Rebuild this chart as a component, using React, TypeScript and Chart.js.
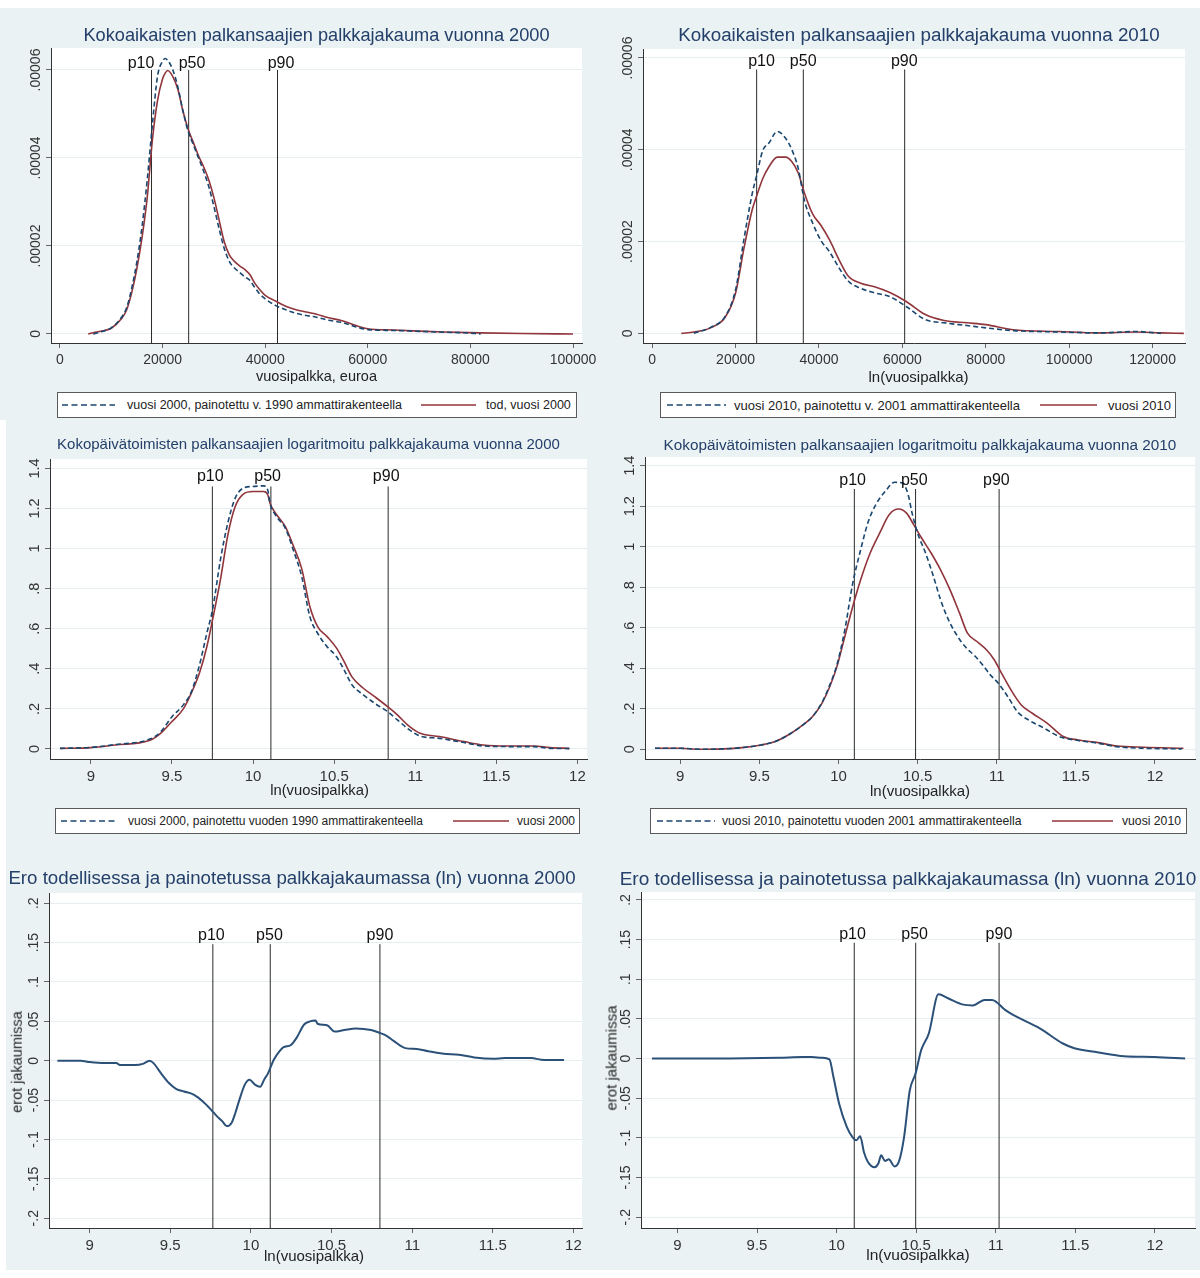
import React, { useEffect, useRef } from "react";
import { Chart, registerables } from "chart.js";

Chart.register(...registerables);

const FONT = '"Liberation Sans", Arial, Helvetica, sans-serif';
const NAVY = "#1a476f";
const MAROON = "#90353b";
const DIFF = "#2b5179";
const BG = "#eaf2f3";
const TITLE = "#24406a";
const PCT_NAMES = ["p10", "p50", "p90"];

// ---------------- Panel 1: euros, 2000 ----------------
const P1_WAGE = [5500, 6500, 8000, 10000, 12000, 13000, 14000, 15000, 16000, 17000, 18000, 19000, 20000, 20500, 21000, 22000, 23000, 24000, 25000, 26000, 27000, 28000, 29000, 30000, 31000, 32000, 33000, 34000, 35000, 36000, 37000, 38000, 39000, 40000, 42000, 44000, 46000, 48000, 50000, 52000, 55000, 58000, 60000, 65000, 70000, 75000, 80000, 82000, 90000, 100000];
const P1_ACTUAL = [0, 0.03e-5, 0.06e-5, 0.13e-5, 0.35e-5, 0.55e-5, 0.95e-5, 1.5e-5, 2.2e-5, 3.1e-5, 4.4e-5, 5.3e-5, 5.8e-5, 5.93e-5, 5.99e-5, 5.85e-5, 5.55e-5, 5.05e-5, 4.65e-5, 4.35e-5, 4.05e-5, 3.8e-5, 3.5e-5, 3.1e-5, 2.6e-5, 2.1e-5, 1.8e-5, 1.65e-5, 1.55e-5, 1.47e-5, 1.35e-5, 1.15e-5, 1.0e-5, 0.88e-5, 0.75e-5, 0.63e-5, 0.55e-5, 0.5e-5, 0.45e-5, 0.38e-5, 0.3e-5, 0.18e-5, 0.12e-5, 0.09e-5, 0.065e-5, 0.045e-5, 0.03e-5, 0.025e-5, 0.01e-5, 0];
const P1_WEIGHTED = [null, 0, 0.05e-5, 0.14e-5, 0.38e-5, 0.6e-5, 1.05e-5, 1.65e-5, 2.45e-5, 3.5e-5, 4.75e-5, 5.85e-5, 6.2e-5, 6.26e-5, 6.22e-5, 6.0e-5, 5.6e-5, 5.05e-5, 4.6e-5, 4.3e-5, 4.0e-5, 3.7e-5, 3.35e-5, 2.9e-5, 2.4e-5, 1.95e-5, 1.65e-5, 1.5e-5, 1.4e-5, 1.3e-5, 1.22e-5, 1.05e-5, 0.9e-5, 0.8e-5, 0.65e-5, 0.55e-5, 0.47e-5, 0.42e-5, 0.38e-5, 0.32e-5, 0.26e-5, 0.15e-5, 0.1e-5, 0.08e-5, 0.06e-5, 0.04e-5, 0.02e-5, 0, null, null];
const P1_X_TICKS = [0, 20000, 40000, 60000, 80000, 100000];
const P1_X_LABELS = ["0", "20000", "40000", "60000", "80000", "100000"];
const P1_Y_TICKS = [0, 0.00002, 0.00004, 0.00006];
const P1_Y_LABELS = ["0", ".00002", ".00004", ".00006"];
const P1_PCT = [17840, 25080, 42400];
const P1_PCT_LABEL_X = [15790, 25730, 43080];

// ---------------- Panel 2: euros, 2010 ----------------
const P2_WAGE = [7000, 10000, 14000, 17500, 20000, 22000, 24000, 25000, 26500, 28000, 30000, 32000, 33500, 35000, 36500, 38500, 40500, 42500, 45000, 47000, 50000, 53500, 57000, 61000, 65500, 70000, 75500, 80000, 86500, 97500, 107000, 116000, 122000, 127500];
const P2_ACTUAL = [0, 0.03e-5, 0.12e-5, 0.35e-5, 0.88e-5, 1.85e-5, 2.7e-5, 2.98e-5, 3.37e-5, 3.63e-5, 3.84e-5, 3.84e-5, 3.74e-5, 3.5e-5, 3.06e-5, 2.6e-5, 2.35e-5, 2.04e-5, 1.57e-5, 1.25e-5, 1.09e-5, 1.01e-5, 0.89e-5, 0.69e-5, 0.41e-5, 0.28e-5, 0.23e-5, 0.19e-5, 0.08e-5, 0.04e-5, 0.01e-5, 0.03e-5, 0.01e-5, 0];
const P2_WEIGHTED = [null, 0, 0.13e-5, 0.37e-5, 0.95e-5, 2.05e-5, 3.05e-5, 3.42e-5, 3.98e-5, 4.15e-5, 4.4e-5, 4.25e-5, 4.0e-5, 3.6e-5, 2.9e-5, 2.4e-5, 2.02e-5, 1.78e-5, 1.4e-5, 1.14e-5, 0.98e-5, 0.88e-5, 0.8e-5, 0.58e-5, 0.3e-5, 0.23e-5, 0.17e-5, 0.12e-5, 0.06e-5, 0.03e-5, 0.01e-5, 0.04e-5, 0, null];
const P2_X_TICKS = [0, 20000, 40000, 60000, 80000, 100000, 120000];
const P2_X_LABELS = ["0", "20000", "40000", "60000", "80000", "100000", "120000"];
const P2_PCT = [25050, 36240, 60550];
const P2_PCT_LABEL_X = [26230, 36220, 60450];

// ---------------- Panel 3: ln wage, 2000 ----------------
const P3_LNWAGE = [8.81, 9.0, 9.15, 9.36, 9.43, 9.5, 9.57, 9.62, 9.67, 9.715, 9.75, 9.8, 9.845, 9.89, 9.94, 10.0, 10.065, 10.09, 10.105, 10.14, 10.2, 10.245, 10.3, 10.35, 10.4, 10.455, 10.515, 10.56, 10.61, 10.68, 10.75, 10.83, 10.89, 10.96, 11.03, 11.15, 11.3, 11.42, 11.57, 11.73, 11.83, 11.95];
const P3_ACTUAL = [0.003, 0.007, 0.02, 0.042, 0.078, 0.137, 0.2, 0.28, 0.38, 0.51, 0.644, 0.85, 1.07, 1.21, 1.272, 1.285, 1.285, 1.27, 1.225, 1.175, 1.108, 1.02, 0.9, 0.711, 0.608, 0.562, 0.503, 0.438, 0.36, 0.303, 0.261, 0.211, 0.17, 0.115, 0.078, 0.062, 0.037, 0.02, 0.015, 0.015, 0.007, 0.003];
const P3_WEIGHTED = [0.003, 0.008, 0.022, 0.048, 0.085, 0.161, 0.22, 0.286, 0.42, 0.578, 0.694, 0.95, 1.13, 1.252, 1.302, 1.31, 1.313, 1.293, 1.225, 1.165, 1.1, 1.0, 0.86, 0.661, 0.575, 0.512, 0.46, 0.397, 0.32, 0.27, 0.228, 0.186, 0.145, 0.098, 0.065, 0.053, 0.032, 0.015, 0.012, 0.012, 0.003, 0.002];
const LN_X_TICKS = [9, 9.5, 10, 10.5, 11, 11.5, 12];
const LN_X_LABELS = ["9", "9.5", "10", "10.5", "11", "11.5", "12"];
const DENS_Y_TICKS = [0, 0.2, 0.4, 0.6, 0.8, 1, 1.2, 1.4];
const DENS_Y_LABELS = ["0", ".2", ".4", ".6", ".8", "1", "1.2", "1.4"];
const P3_PCT = [9.749, 10.11, 10.833];
const P3_PCT_LABEL_X = [9.736, 10.09, 10.821];

// ---------------- Panel 4: ln wage, 2010 ----------------
const P4_X_ACTUAL = [8.84, 9.0, 9.12, 9.27, 9.39, 9.51, 9.6, 9.7, 9.775, 9.835, 9.895, 9.945, 9.99, 10.04, 10.09, 10.14, 10.2, 10.26, 10.32, 10.38, 10.43, 10.475, 10.525, 10.585, 10.645, 10.705, 10.765, 10.815, 10.875, 10.935, 10.985, 11.03, 11.09, 11.155, 11.225, 11.32, 11.42, 11.515, 11.64, 11.76, 11.93, 12.18];
const P4_ACTUAL = [0.005, 0.005, 0.0, 0.002, 0.008, 0.021, 0.038, 0.079, 0.12, 0.161, 0.227, 0.31, 0.408, 0.557, 0.705, 0.837, 0.969, 1.067, 1.158, 1.186, 1.166, 1.109, 1.043, 0.969, 0.886, 0.787, 0.672, 0.573, 0.532, 0.491, 0.441, 0.376, 0.293, 0.219, 0.178, 0.128, 0.063, 0.046, 0.033, 0.016, 0.01, 0.005];
const P4_X_WEIGHTED = [8.84, 9.0, 9.12, 9.27, 9.39, 9.51, 9.6, 9.7, 9.775, 9.835, 9.895, 9.945, 9.99, 10.04, 10.09, 10.14, 10.185, 10.235, 10.295, 10.355, 10.405, 10.44, 10.465, 10.5, 10.55, 10.6, 10.645, 10.695, 10.74, 10.8, 10.865, 10.91, 10.96, 11.01, 11.07, 11.13, 11.2, 11.3, 11.395, 11.515, 11.64, 11.76, 11.93, 12.17];
const P4_WEIGHTED = [0.005, 0.005, 0.0, 0.002, 0.008, 0.021, 0.038, 0.079, 0.12, 0.161, 0.23, 0.318, 0.417, 0.59, 0.82, 0.985, 1.117, 1.207, 1.273, 1.318, 1.314, 1.257, 1.166, 1.067, 0.969, 0.853, 0.738, 0.639, 0.573, 0.507, 0.458, 0.417, 0.367, 0.326, 0.26, 0.186, 0.145, 0.104, 0.063, 0.043, 0.03, 0.013, 0.005, 0.002];
const P4_PCT = [10.1, 10.487, 11.015];
const P4_PCT_LABEL_X = [10.089, 10.479, 10.998];

// ---------------- Panel 5: difference, 2000 ----------------
const P5_LNWAGE = [8.8, 8.945, 9.0, 9.094, 9.165, 9.188, 9.283, 9.33, 9.372, 9.396, 9.443, 9.49, 9.538, 9.585, 9.645, 9.704, 9.752, 9.787, 9.823, 9.85, 9.88, 9.904, 9.928, 9.963, 9.992, 10.023, 10.058, 10.082, 10.106, 10.141, 10.177, 10.2, 10.248, 10.283, 10.33, 10.366, 10.401, 10.413, 10.472, 10.519, 10.579, 10.65, 10.745, 10.804, 10.839, 10.887, 10.958, 11.029, 11.1, 11.195, 11.29, 11.385, 11.503, 11.574, 11.74, 11.8, 11.942];
const P5_DIFF = [0, 0, -0.0017, -0.003, -0.003, -0.0055, -0.0055, -0.004, 0, -0.003, -0.016, -0.028, -0.036, -0.039, -0.043, -0.052, -0.062, -0.07, -0.077, -0.083, -0.079, -0.066, -0.05, -0.03, -0.024, -0.03, -0.033, -0.024, -0.016, 0.001, 0.012, 0.017, 0.02, 0.029, 0.046, 0.05, 0.051, 0.047, 0.045, 0.037, 0.039, 0.041, 0.039, 0.035, 0.032, 0.025, 0.016, 0.015, 0.012, 0.009, 0.0076, 0.0042, 0.0025, 0.0034, 0.0034, 0.0013, 0.0008];
const DIFF_Y_TICKS = [-0.2, -0.15, -0.1, -0.05, 0, 0.05, 0.1, 0.15, 0.2];
const DIFF_Y_LABELS = ["-.2", "-.15", "-.1", "-.05", "0", ".05", ".1", ".15", ".2"];
const P5_PCT = [9.764, 10.12, 10.8];
const P5_PCT_LABEL_X = [9.755, 10.115, 10.8];

// ---------------- Panel 6: difference, 2010 ----------------
const P6_LNWAGE = [8.84, 9.233, 9.64, 9.786, 9.846, 9.906, 9.955, 9.98, 10.016, 10.064, 10.1, 10.124, 10.148, 10.172, 10.196, 10.239, 10.263, 10.28, 10.304, 10.328, 10.364, 10.393, 10.424, 10.46, 10.496, 10.532, 10.58, 10.64, 10.7, 10.796, 10.856, 10.929, 10.977, 11.061, 11.109, 11.277, 11.422, 11.494, 11.638, 11.807, 12.0, 12.19];
const P6_DIFF = [0, 0, 0.001, 0.002, 0.002, 0.001, -0.001, -0.023, -0.057, -0.086, -0.099, -0.103, -0.098, -0.118, -0.13, -0.137, -0.132, -0.122, -0.129, -0.127, -0.136, -0.129, -0.099, -0.04, -0.019, 0.011, 0.032, 0.081, 0.076, 0.068, 0.067, 0.074, 0.074, 0.061, 0.055, 0.038, 0.019, 0.013, 0.008, 0.003, 0.002, 0];
const P6_PCT = [10.111, 10.497, 11.021];
const P6_PCT_LABEL_X = [10.1, 10.49, 11.02];

type Series = { x: number[]; y: (number | null)[]; color: string; width: number; dash?: number[] };
type Spec = {
  plot: { l: number; t: number; r: number; b: number };
  x: [number, number];
  y: [number, number];
  xTicks: number[];
  xLabels: string[];
  yTicks: number[];
  yLabels: string[];
  xFont: number;
  yFont: number;
  yGap: number;
  series: Series[];
  pct: number[];
  pctTop: number;
  pctLabelX: number[];
  pctGap: number;
};

const DASH = [5, 3];

const SPECS: Spec[] = [
  {
    plot: { l: 51, t: 48, r: 582, b: 343 },
    x: [-1754, 101754], y: [-0.00000205, 0.000065],
    xTicks: P1_X_TICKS, xLabels: P1_X_LABELS, yTicks: P1_Y_TICKS, yLabels: P1_Y_LABELS,
    xFont: 14, yFont: 14, yGap: 11,
    series: [
      { x: P1_WAGE, y: P1_WEIGHTED, color: NAVY, width: 1.6, dash: DASH },
      { x: P1_WAGE, y: P1_ACTUAL, color: MAROON, width: 1.6 },
    ],
    pct: P1_PCT, pctTop: 0.00006, pctLabelX: P1_PCT_LABEL_X, pctGap: 2,
  },
  {
    plot: { l: 643, t: 49, r: 1185, b: 343 },
    x: [-2205, 127780], y: [-0.0000021, 0.00006196],
    xTicks: P2_X_TICKS, xLabels: P2_X_LABELS, yTicks: P1_Y_TICKS, yLabels: P1_Y_LABELS,
    xFont: 14, yFont: 14, yGap: 11,
    series: [
      { x: P2_WAGE, y: P2_WEIGHTED, color: NAVY, width: 1.6, dash: DASH },
      { x: P2_WAGE, y: P2_ACTUAL, color: MAROON, width: 1.6 },
    ],
    pct: P2_PCT, pctTop: 0.0000575, pctLabelX: P2_PCT_LABEL_X, pctGap: 3,
  },
  {
    plot: { l: 50, t: 459, r: 587, b: 759 },
    x: [8.748, 12.059], y: [-0.05, 1.447],
    xTicks: LN_X_TICKS, xLabels: LN_X_LABELS, yTicks: DENS_Y_TICKS, yLabels: DENS_Y_LABELS,
    xFont: 15, yFont: 14.5, yGap: 11,
    series: [
      { x: P3_LNWAGE, y: P3_WEIGHTED, color: NAVY, width: 1.6, dash: DASH },
      { x: P3_LNWAGE, y: P3_ACTUAL, color: MAROON, width: 1.6 },
    ],
    pct: P3_PCT, pctTop: 1.31, pctLabelX: P3_PCT_LABEL_X, pctGap: 5,
  },
  {
    plot: { l: 645, t: 457, r: 1195, b: 759 },
    x: [8.777, 12.253], y: [-0.048, 1.443],
    xTicks: LN_X_TICKS, xLabels: LN_X_LABELS, yTicks: DENS_Y_TICKS, yLabels: DENS_Y_LABELS,
    xFont: 15, yFont: 14.5, yGap: 11,
    series: [
      { x: P4_X_WEIGHTED, y: P4_WEIGHTED, color: NAVY, width: 1.6, dash: DASH },
      { x: P4_X_ACTUAL, y: P4_ACTUAL, color: MAROON, width: 1.6 },
    ],
    pct: P4_PCT, pctTop: 1.285, pctLabelX: P4_PCT_LABEL_X, pctGap: 4,
  },
  {
    plot: { l: 49, t: 893, r: 582, b: 1228 },
    x: [8.748, 12.053], y: [-0.2124, 0.213],
    xTicks: LN_X_TICKS, xLabels: LN_X_LABELS, yTicks: DIFF_Y_TICKS, yLabels: DIFF_Y_LABELS,
    xFont: 15, yFont: 14, yGap: 11,
    series: [{ x: P5_LNWAGE, y: P5_DIFF, color: DIFF, width: 2 }],
    pct: P5_PCT, pctTop: 0.148, pctLabelX: P5_PCT_LABEL_X, pctGap: 4,
  },
  {
    plot: { l: 641, t: 892, r: 1195, b: 1228 },
    x: [8.771, 12.252], y: [-0.2136, 0.21],
    xTicks: LN_X_TICKS, xLabels: LN_X_LABELS, yTicks: DIFF_Y_TICKS, yLabels: DIFF_Y_LABELS,
    xFont: 15, yFont: 14, yGap: 11,
    series: [{ x: P6_LNWAGE, y: P6_DIFF, color: DIFF, width: 2 }],
    pct: P6_PCT, pctTop: 0.146, pctLabelX: P6_PCT_LABEL_X, pctGap: 4,
  },
];

const LEFT_M = 50;
const TOP_M = 30;
const BOTTOM_M = 30;
const Y_W = 6;

function PanelChart({ spec }: { spec: Spec }) {
  const ref = useRef<HTMLCanvasElement | null>(null);
  const { plot } = spec;
  const rightM = Math.min(24, 1200 - plot.r);
  const cl = plot.l - LEFT_M;
  const ct = plot.t - TOP_M;
  const cw = plot.r - plot.l + LEFT_M + rightM;
  const ch = plot.b - plot.t + TOP_M + BOTTOM_M;

  useEffect(() => {
    const canvas = ref.current;
    if (!canvas) return;
    const datasets: any[] = [];
    spec.series.forEach((s) => {
      datasets.push({
        data: s.x.map((x, i) => ({ x, y: s.y[i] })),
        borderColor: s.color,
        borderWidth: s.width,
        borderDash: s.dash || [],
        pointRadius: 0,
        cubicInterpolationMode: "monotone",
        spanGaps: false,
        fill: false,
        order: 1,
      });
    });
    spec.pct.forEach((p) => {
      datasets.push({
        data: [{ x: p, y: spec.y[0] }, { x: p, y: spec.pctTop }],
        borderColor: "#2a2a2a",
        borderWidth: 1,
        pointRadius: 0,
        tension: 0,
        fill: false,
        order: 2,
      });
    });

    const decor = {
      id: "decor",
      beforeDraw(chart: any) {
        const { ctx, chartArea: a } = chart;
        ctx.save();
        ctx.fillStyle = "#ffffff";
        ctx.fillRect(a.left, a.top, a.right - a.left, a.bottom - a.top);
        ctx.restore();
      },
      afterDraw(chart: any) {
        const { ctx, chartArea: a } = chart;
        const xs = chart.scales.x;
        const ys = chart.scales.y;
        ctx.save();
        ctx.fillStyle = "#333";
        ctx.font = `${spec.yFont}px ${FONT}`;
        ctx.textAlign = "center";
        ctx.textBaseline = "alphabetic";
        spec.yTicks.forEach((v, i) => {
          const py = ys.getPixelForValue(v);
          ctx.save();
          ctx.translate(a.left - spec.yGap, py);
          ctx.rotate(-Math.PI / 2);
          ctx.fillText(spec.yLabels[i], 0, 0);
          ctx.restore();
        });
        ctx.fillStyle = "#111";
        ctx.font = `16px ${FONT}`;
        const topPx = ys.getPixelForValue(spec.pctTop);
        spec.pctLabelX.forEach((lx, i) => {
          ctx.fillText(PCT_NAMES[i], xs.getPixelForValue(lx), topPx - spec.pctGap);
        });
        ctx.restore();
      },
    };

    const chart = new Chart(canvas, {
      type: "line",
      data: { datasets },
      options: {
        animation: false,
        responsive: false,
        maintainAspectRatio: false,
        events: [],
        layout: { padding: { left: LEFT_M - Y_W, top: TOP_M, right: rightM, bottom: 0 } },
        plugins: { legend: { display: false }, tooltip: { enabled: false }, title: { display: false } },
        scales: {
          x: {
            type: "linear",
            min: spec.x[0],
            max: spec.x[1],
            afterBuildTicks: (s: any) => {
              s.ticks = spec.xTicks.map((v) => ({ value: v }));
            },
            afterFit: (s: any) => {
              s.height = BOTTOM_M;
              s.paddingLeft = 0;
              s.paddingRight = 0;
            },
            ticks: {
              autoSkip: false,
              maxRotation: 0,
              minRotation: 0,
              padding: 4,
              color: "#333",
              font: { family: FONT, size: spec.xFont },
              callback: (v: any) => {
                const i = spec.xTicks.indexOf(v);
                return i >= 0 ? spec.xLabels[i] : "";
              },
            },
            grid: { drawOnChartArea: false, drawTicks: true, tickLength: 5, tickColor: "#666" },
            border: { display: true, color: "#333", width: 1 },
          },
          y: {
            type: "linear",
            min: spec.y[0],
            max: spec.y[1],
            afterBuildTicks: (s: any) => {
              s.ticks = spec.yTicks.map((v) => ({ value: v }));
            },
            afterFit: (s: any) => {
              s.width = Y_W;
              s.paddingTop = 0;
              s.paddingBottom = 0;
            },
            ticks: { display: false },
            grid: { color: "#e6eef1", lineWidth: 1, drawTicks: true, tickLength: 5, tickColor: "#666" },
            border: { display: true, color: "#333", width: 1 },
          },
        },
      } as any,
      plugins: [decor],
    } as any);
    return () => chart.destroy();
  }, []);

  return (
    <canvas
      ref={ref}
      width={cw}
      height={ch}
      style={{ position: "absolute", left: cl, top: ct, width: cw, height: ch }}
    />
  );
}

function Txt({ x, y, size, color = "#222", rot = 0, children }: any) {
  return (
    <div
      style={{
        position: "absolute",
        left: x,
        top: y,
        transform: `translate(-50%, -50%)${rot ? ` rotate(${rot}deg)` : ""}`,
        fontFamily: FONT,
        fontSize: size,
        color,
        whiteSpace: "nowrap",
        lineHeight: 1,
      }}
    >
      {children}
    </div>
  );
}

type LegendItem = { x1: number; x2: number; dash: boolean; color: string; tx: number; text: string };

function Legend({ l, t, r, b, size, items }: { l: number; t: number; r: number; b: number; size: number; items: LegendItem[] }) {
  const h = b - t;
  return (
    <div
      style={{
        position: "absolute",
        left: l,
        top: t,
        width: r - l,
        height: h,
        border: "1px solid #5a5a5a",
        background: "#fff",
        boxSizing: "border-box",
      }}
    >
      <svg width={r - l} height={h} style={{ position: "absolute", left: -1, top: -1 }}>
        {items.map((it, i) => (
          <line
            key={i}
            x1={it.x1 - l}
            x2={it.x2 - l}
            y1={h / 2}
            y2={h / 2}
            stroke={it.color}
            strokeWidth={1.6}
            strokeDasharray={it.dash ? "6 3.5" : undefined}
          />
        ))}
      </svg>
      {items.map((it, i) => (
        <div
          key={i}
          style={{
            position: "absolute",
            left: it.tx - l - 1,
            top: h / 2 - 1,
            transform: "translateY(-50%)",
            fontFamily: FONT,
            fontSize: size,
            color: "#222",
            whiteSpace: "nowrap",
            lineHeight: 1,
          }}
        >
          {it.text}
        </div>
      ))}
    </div>
  );
}

export default function App() {
  return (
    <div style={{ position: "absolute", left: 0, top: 0, width: 1200, height: 1278, overflow: "hidden", background: "#fff" }}>
      <div style={{ position: "absolute", left: 0, top: 8, width: 1200, height: 1262, background: BG }} />
      <div style={{ position: "absolute", left: 0, top: 420, width: 6, height: 858, background: "#fff" }} />

      {SPECS.map((s, i) => (
        <PanelChart key={i} spec={s} />
      ))}

      <Txt x={316.5} y={35} size={18.2} color={TITLE}>Kokoaikaisten palkansaajien palkkajakauma vuonna 2000</Txt>
      <Txt x={919} y={35} size={18.8} color={TITLE}>Kokoaikaisten palkansaajien palkkajakauma vuonna 2010</Txt>
      <Txt x={308.5} y={443} size={15} color={TITLE}>Kokopäivätoimisten palkansaajien logaritmoitu palkkajakauma vuonna 2000</Txt>
      <Txt x={920} y={445} size={15.3} color={TITLE}>Kokopäivätoimisten palkansaajien logaritmoitu palkkajakauma vuonna 2010</Txt>
      <Txt x={292} y={878} size={18.7} color={TITLE}>Ero todellisessa ja painotetussa palkkajakaumassa (ln) vuonna 2000</Txt>
      <Txt x={908} y={878} size={19} color={TITLE}>Ero todellisessa ja painotetussa palkkajakaumassa (ln) vuonna 2010</Txt>

      <Txt x={316.5} y={376} size={14.5}>vuosipalkka, euroa</Txt>
      <Txt x={918.5} y={376} size={15}>ln(vuosipalkka)</Txt>
      <Txt x={319.5} y={790} size={14.8}>ln(vuosipalkka)</Txt>
      <Txt x={920} y={790} size={15}>ln(vuosipalkka)</Txt>
      <Txt x={314} y={1255} size={15}>ln(vuosipalkka)</Txt>
      <Txt x={918} y={1255} size={15.5}>ln(vuosipalkka)</Txt>

      <Txt x={17} y={1062} size={14.5} rot={-90}>erot jakaumissa</Txt>
      <Txt x={611} y={1058} size={15} rot={-90}>erot jakaumissa</Txt>

      <Legend
        l={57} t={392} r={577} b={418} size={12.5}
        items={[
          { x1: 62, x2: 115, dash: true, color: NAVY, tx: 127, text: "vuosi 2000, painotettu v. 1990 ammattirakenteella" },
          { x1: 421, x2: 476, dash: false, color: MAROON, tx: 486, text: "tod, vuosi 2000" },
        ]}
      />
      <Legend
        l={660} t={392} r={1176} b={418} size={13}
        items={[
          { x1: 667, x2: 726, dash: true, color: NAVY, tx: 734, text: "vuosi 2010, painotettu v. 2001 ammattirakenteella" },
          { x1: 1040, x2: 1097, dash: false, color: MAROON, tx: 1108, text: "vuosi 2010" },
        ]}
      />
      <Legend
        l={55} t={808} r={580} b={834} size={12}
        items={[
          { x1: 61, x2: 117, dash: true, color: NAVY, tx: 128, text: "vuosi 2000, painotettu vuoden 1990 ammattirakenteella" },
          { x1: 453, x2: 509, dash: false, color: MAROON, tx: 517, text: "vuosi 2000" },
        ]}
      />
      <Legend
        l={650} t={808} r={1187} b={834} size={12.2}
        items={[
          { x1: 657, x2: 715, dash: true, color: NAVY, tx: 722, text: "vuosi 2010, painotettu vuoden 2001 ammattirakenteella" },
          { x1: 1052, x2: 1113, dash: false, color: MAROON, tx: 1122, text: "vuosi 2010" },
        ]}
      />
    </div>
  );
}
